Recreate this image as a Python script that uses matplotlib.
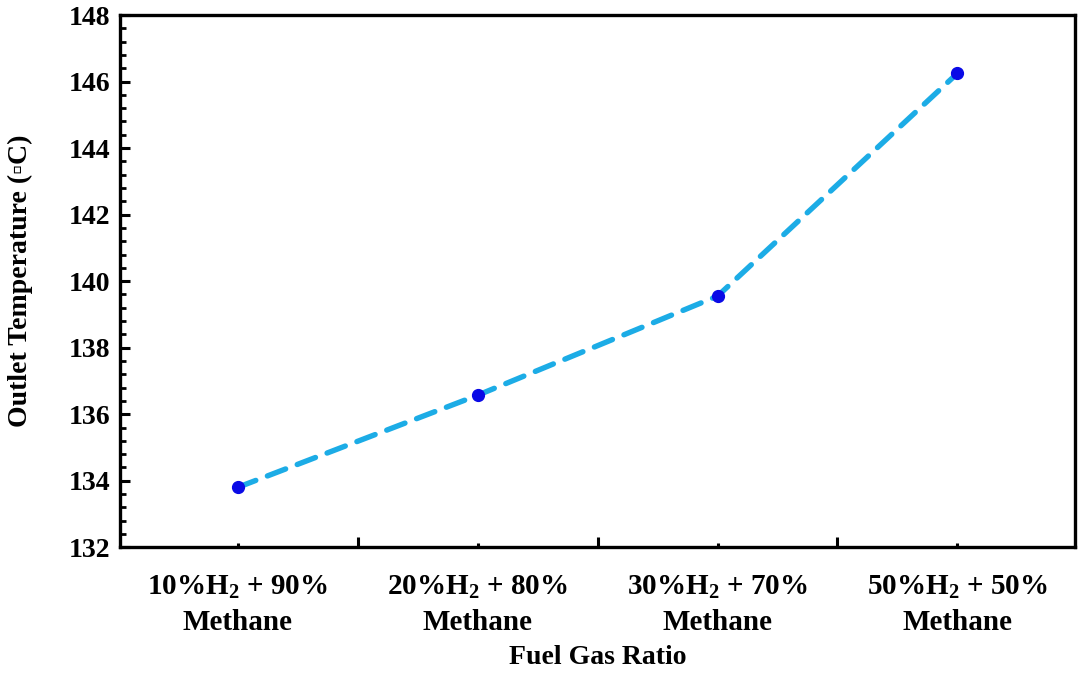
import numpy as np
import matplotlib
matplotlib.use("Agg")
import matplotlib.pyplot as plt
from matplotlib.ticker import MultipleLocator

plt.rcParams['font.family'] = ['Liberation Serif', 'DejaVu Serif', 'DejaVu Sans']
plt.rcParams['font.weight'] = 'bold'
plt.rcParams['mathtext.fontset'] = 'custom'
plt.rcParams['mathtext.rm'] = 'Liberation Serif:bold'
plt.rcParams['mathtext.bf'] = 'Liberation Serif:bold'
plt.rcParams['mathtext.default'] = 'bf'

# data
categories = ["10%H$_2$ + 90%\nMethane", "20%H$_2$ + 80%\nMethane",
              "30%H$_2$ + 70%\nMethane", "50%H$_2$ + 50%\nMethane"]
outlet_temp = [133.8, 136.57, 139.55, 146.25]

fig = plt.figure(figsize=(10.81, 6.74), dpi=100)
ax = fig.add_axes([0.111, 0.188, 0.8835, 0.7897])

x = np.arange(len(categories))
ax.plot(x, outlet_temp, color='#1cace6', lw=3.9, ls=(0, (3.6, 2.3)),
        dash_capstyle='round', zorder=2)
ax.plot(x, outlet_temp, 'o', color='#0a0ae6', ms=8.5, zorder=3)

ax.set_xlim(-0.49, 3.49)
ax.set_ylim(132, 148)

ax.set_xticks(x)
ax.set_xticklabels(categories, fontsize=21, fontweight='bold', linespacing=1.4)
ax.set_xticks(x[:-1] + 0.5, minor=True)
ax.tick_params(axis='x', which='major', direction='in', length=3, width=2.2, pad=19)
ax.tick_params(axis='x', which='minor', direction='in', length=7, width=2.2)

ax.yaxis.set_major_locator(MultipleLocator(2))
ax.yaxis.set_minor_locator(MultipleLocator(0.4))
ax.tick_params(axis='y', which='major', direction='in', length=7, width=2.2,
               labelsize=20, pad=7)
ax.tick_params(axis='y', which='minor', direction='in', length=4, width=2.0)
for lab in ax.get_yticklabels():
    lab.set_fontweight('bold')

for s in ax.spines.values():
    s.set_linewidth(2.4)

ax.set_xlabel("Fuel Gas Ratio", fontsize=20, fontweight='bold', labelpad=6)
ax.set_ylabel("Outlet Temperature (\u25abC)", fontsize=20, fontweight='bold', labelpad=26)

fig.savefig("out.png", dpi=100)
